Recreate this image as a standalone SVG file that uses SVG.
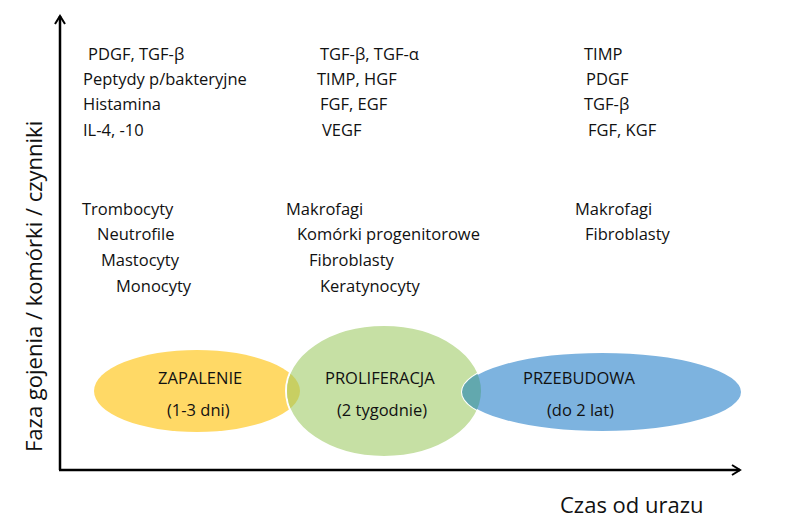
<svg xmlns="http://www.w3.org/2000/svg" width="802" height="528" viewBox="0 0 802 528">
<style>
text{font-family:"Open Sans","Liberation Sans",sans-serif;font-size:16.5px;fill:#111}
.ax{font-size:22px}
</style>
<defs>
<marker id="ar" markerWidth="12" markerHeight="12" refX="9" refY="6" orient="auto" markerUnits="userSpaceOnUse"><path d="M1,1 L9,6 L1,11" fill="none" stroke="#000" stroke-width="2"/></marker>
<clipPath id="cy"><ellipse cx="197" cy="391" rx="103" ry="41"/></clipPath>
<clipPath id="cb"><ellipse cx="602" cy="392" rx="140" ry="40"/></clipPath>
</defs>
<rect width="802" height="528" fill="#fff"/>
<g id="connectors" stroke="#000" stroke-width="2.5">
<line x1="60" y1="470" x2="60" y2="16" marker-end="url(#ar)"/>
<line x1="59" y1="470" x2="740" y2="470" marker-end="url(#ar)"/>
</g>
<g id="zapalenie"><ellipse cx="197" cy="391" rx="103" ry="41" fill="#FFD966"/></g>
<g id="proliferacja"><ellipse cx="384" cy="391" rx="98" ry="66" fill="#C6E0A4" stroke="#fff" stroke-width="2"/>
<ellipse cx="384" cy="391" rx="97" ry="65" fill="#C8CF62" clip-path="url(#cy)"/></g>
<g id="przebudowa"><ellipse cx="602" cy="392" rx="140" ry="40" fill="#7DB3DF" stroke="#fff" stroke-width="2"/>
<ellipse cx="384" cy="391" rx="97" ry="65" fill="#62A8AE" clip-path="url(#cb)"/></g>
<g id="labels">
<text x="158" y="384">ZAPALENIE</text><text x="167" y="416">(1-3 dni)</text>
<text x="325" y="384">PROLIFERACJA</text><text x="337" y="416">(2 tygodnie)</text>
<text x="523" y="384">PRZEBUDOWA</text><text x="547" y="416">(do 2 lat)</text>
</g>
<g id="factors">
<text x="88" y="60">PDGF, TGF-β</text><text x="83" y="85">Peptydy p/bakteryjne</text><text x="83" y="110">Histamina</text><text x="83" y="136">IL-4, -10</text>
<text x="320" y="60">TGF-β, TGF-α</text><text x="317" y="85">TIMP, HGF</text><text x="320" y="110">FGF, EGF</text><text x="322" y="136">VEGF</text>
<text x="584" y="60">TIMP</text><text x="586" y="85">PDGF</text><text x="584" y="110">TGF-β</text><text x="588" y="136">FGF, KGF</text>
</g>
<g id="cells">
<text x="82" y="215">Trombocyty</text><text x="97" y="240">Neutrofile</text><text x="101" y="266">Mastocyty</text><text x="116" y="292">Monocyty</text>
<text x="286" y="215">Makrofagi</text><text x="297" y="240">Komórki progenitorowe</text><text x="309" y="266">Fibroblasty</text><text x="320" y="292">Keratynocyty</text>
<text x="575" y="215">Makrofagi</text><text x="585" y="240">Fibroblasty</text>
</g>
<text class="ax" x="560" y="513">Czas od urazu</text>
<text class="ax" transform="translate(42,452) rotate(-90)">Faza gojenia  /  komórki  /  czynniki</text>
</svg>
